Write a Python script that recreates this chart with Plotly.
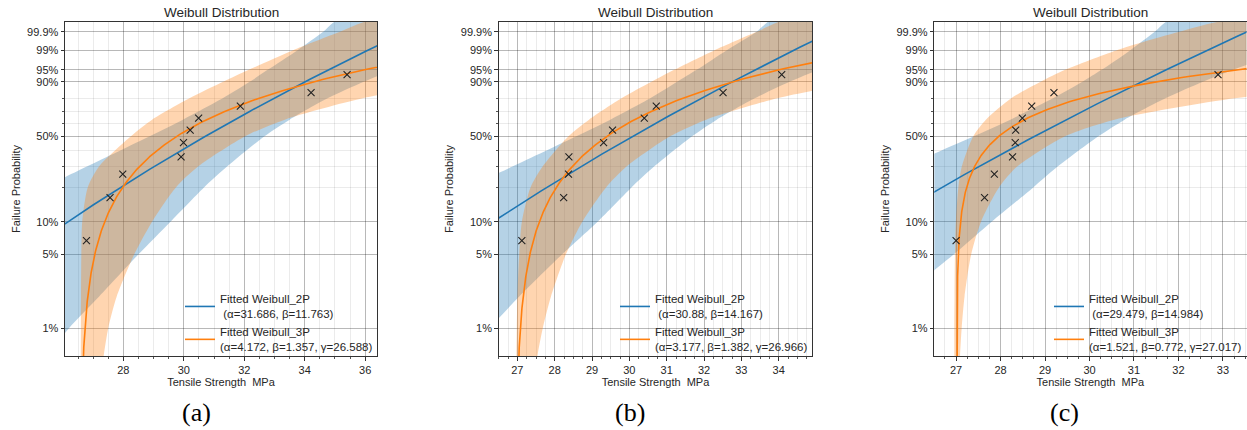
import numpy as np
import plotly.graph_objects as go

# ---------------- data ----------------
rank_pct = [6.7, 16.4, 26.0, 35.6, 45.2, 54.8, 64.4, 74.0, 83.7, 93.3]
strength_a = [26.78, 27.56, 27.98, 29.91, 29.99, 30.21, 30.49, 31.87, 34.21, 35.40]
strength_b = [27.12, 28.24, 28.37, 28.38, 29.31, 29.55, 30.40, 30.72, 32.51, 34.08]
strength_c = [27.00, 27.64, 27.86, 28.27, 28.33, 28.34, 28.49, 28.70, 29.20, 32.89]

# fitted parameters shown in the legends: (alpha, beta) and (alpha, beta, gamma)
w2p_a = (31.686, 11.763)
w3p_a = (4.172, 1.357, 26.588)
w2p_b = (30.88, 14.167)
w3p_b = (3.177, 1.382, 26.966)
w2p_c = (29.479, 14.984)
w3p_c = (1.521, 0.772, 27.017)

# confidence bounds: strength at each probability level (left / right edge of band)
band_pct = [0.1, 0.5, 1, 2, 5, 10, 20, 30, 50, 63.2, 80, 90, 95, 99, 99.9, 99.99]
ci2p_a_lo = [12.97, 15.88, 17.32, 18.89, 21.21, 23.17, 25.37, 26.81, 28.87, 29.97, 31.30, 32.18, 32.77, 33.75, 34.60, 35.15]
ci2p_a_hi = [23.50, 25.40, 26.20, 27.20, 28.50, 29.56, 30.66, 31.44, 32.67, 33.50, 34.77, 35.95, 36.91, 38.68, 40.52, 41.90]
ci3p_a_lo = [26.588, 26.592, 26.596, 26.600, 26.610, 26.640, 26.820, 27.200, 28.250, 28.950, 30.200, 31.300, 32.150, 33.600, 35.150, 36.350]
ci3p_a_hi = [27.00, 27.33, 27.50, 27.78, 28.36, 28.95, 29.73, 30.48, 32.03, 33.34, 35.95, 39.05, 42.28, 50.08, 61.69, 73.60]
ci2p_b_lo = [14.71, 17.40, 18.70, 20.10, 22.13, 23.81, 25.67, 26.88, 28.58, 29.49, 30.57, 31.28, 31.80, 32.60, 33.40, 33.85]
ci2p_b_hi = [23.80, 25.50, 26.25, 27.05, 28.20, 29.15, 30.05, 30.67, 31.68, 32.34, 33.37, 34.29, 35.06, 36.44, 37.87, 38.94]
ci3p_b_lo = [26.968, 26.975, 26.985, 27.000, 27.050, 27.120, 27.350, 27.680, 28.370, 28.920, 29.800, 30.590, 31.200, 32.270, 33.400, 34.280]
ci3p_b_hi = [27.27, 27.52, 27.68, 27.90, 28.30, 28.74, 29.37, 29.93, 31.09, 32.06, 33.99, 36.27, 38.63, 44.30, 52.70, 61.30]
ci2p_c_lo = [14.63, 17.14, 18.35, 19.64, 21.51, 23.06, 24.76, 25.85, 27.40, 28.22, 29.19, 29.84, 30.27, 30.91, 31.46, 31.84]
ci2p_c_hi = [22.80, 24.40, 25.10, 25.80, 26.95, 27.80, 28.73, 29.29, 30.20, 30.79, 31.72, 32.55, 33.23, 34.47, 35.75, 36.71]
ci3p_c_lo = [26.960, 26.960, 26.960, 26.965, 26.975, 26.995, 27.050, 27.130, 27.386, 27.670, 28.250, 28.900, 29.450, 30.600, 32.000, 33.300]
ci3p_c_hi = [27.04, 27.085, 27.125, 27.19, 27.34, 27.56, 27.96, 28.38, 29.45, 30.56, 33.31, 37.43, 42.62, 58.74, 91.30, 134.50]

ytick_pct = [1, 5, 10, 50, 90, 95, 99, 99.9]
ytick_text = ["1%", "5%", "10%", "50%", "90%", "95%", "99%", "99.9%"]
yminor_pct = [20, 30, 40, 60, 70, 80]

x_ranges = [[26.07, 36.39], [26.50, 34.90], [26.51, 33.53]]
x_dticks = [2, 1, 1]
x_minor = [0.5, 0.25, 0.25]
captions = ["(a)", "(b)", "(c)"]

# ---------------- helpers ----------------
def wy(p_pct):
    """Weibull probability-paper scale: ln(-ln(1-F))"""
    p = np.asarray(p_pct, dtype=float) / 100.0
    return np.log(-np.log(1.0 - p))

W, H = 1247, 430
FONT = "Liberation Sans, Arial, sans-serif"
BLUE = "#1f77b4"
ORANGE = "#ff7f0e"
BLUE_F = "rgba(31,119,180,0.33)"
ORANGE_F = "rgba(255,127,14,0.33)"
TXT = "#262626"

# plot-area pixel boxes
px_left = [65, 498.7, 934.3]
px_right = [377, 812.3, 1246.5]
px_top, px_bot = 22, 356

fig = go.Figure()

panels = [
    (strength_a, w2p_a, w3p_a, ci2p_a_lo, ci2p_a_hi, ci3p_a_lo, ci3p_a_hi),
    (strength_b, w2p_b, w3p_b, ci2p_b_lo, ci2p_b_hi, ci3p_b_lo, ci3p_b_hi),
    (strength_c, w2p_c, w3p_c, ci2p_c_lo, ci2p_c_hi, ci3p_c_lo, ci3p_c_hi),
]

yb = wy(band_pct)
yband = np.concatenate([yb, yb[::-1]])
ycurve = np.linspace(-6.5, 2.4, 400)

for i, (xs, p2, p3, l2, h2, l3, h3) in enumerate(panels):
    sfx = "" if i == 0 else str(i + 1)
    xa, ya = "x" + sfx, "y" + sfx
    leg = "legend" + sfx
    a2, b2 = p2
    a3, b3, g3 = p3

    # confidence bands
    fig.add_trace(go.Scatter(x=list(l2) + list(h2)[::-1], y=yband, xaxis=xa, yaxis=ya,
                             mode="lines", fill="toself", fillcolor=BLUE_F,
                             line=dict(width=0, shape="spline", smoothing=0.7),
                             hoverinfo="skip", showlegend=False))
    fig.add_trace(go.Scatter(x=list(l3) + list(h3)[::-1], y=yband, xaxis=xa, yaxis=ya,
                             mode="lines", fill="toself", fillcolor=ORANGE_F,
                             line=dict(width=0, shape="spline", smoothing=0.7),
                             hoverinfo="skip", showlegend=False))
    # fitted CDF lines
    fig.add_trace(go.Scatter(x=a2 * np.exp(ycurve / b2), y=ycurve, xaxis=xa, yaxis=ya,
                             mode="lines", line=dict(color=BLUE, width=1.6),
                             name="Fitted Weibull_2P<br>\u00a0(\u03b1=%s, \u03b2=%s)" % (a2, b2),
                             legend=leg, showlegend=True))
    fig.add_trace(go.Scatter(x=g3 + a3 * np.exp(ycurve / b3), y=ycurve, xaxis=xa, yaxis=ya,
                             mode="lines", line=dict(color=ORANGE, width=1.6),
                             name="Fitted Weibull_3P<br>(\u03b1=%s, \u03b2=%s, \u03b3=%s)" % (a3, b3, g3),
                             legend=leg, showlegend=True))
    # failure points
    fig.add_trace(go.Scatter(x=xs, y=wy(rank_pct), xaxis=xa, yaxis=ya, mode="markers",
                             marker=dict(symbol="x-thin", size=7, line=dict(width=1.1, color="#222")),
                             showlegend=False, name="data"))

    dom_x = [px_left[i] / W, px_right[i] / W]
    dom_y = [(H - px_bot) / H, (H - px_top) / H]
    fig.layout["xaxis" + sfx] = dict(
        domain=dom_x, anchor=ya, range=x_ranges[i], tick0=0, dtick=x_dticks[i],
        showgrid=True, gridcolor="rgba(0,0,0,0.28)", gridwidth=1, zeroline=False,
        showline=True, linecolor="#333", linewidth=1, mirror=True,
        ticks="outside", ticklen=3.5, tickcolor="#333",
        tickfont=dict(family=FONT, size=11, color=TXT),
        minor=dict(dtick=x_minor[i], tick0=0, ticks="outside", ticklen=2, tickcolor="#555",
                   showgrid=True, gridcolor="rgba(0,0,0,0.08)"),
        title=dict(text="Tensile Strength\u00a0 MPa", font=dict(family=FONT, size=11, color=TXT),
                   standoff=3),
    )
    fig.layout["yaxis" + sfx] = dict(
        domain=dom_y, anchor=xa, range=[-5.213, 2.153],
        tickmode="array", tickvals=wy(ytick_pct), ticktext=ytick_text,
        showgrid=True, gridcolor="rgba(0,0,0,0.28)", gridwidth=1, zeroline=False,
        showline=True, linecolor="#333", linewidth=1, mirror=True,
        ticks="outside", ticklen=3.5, tickcolor="#333",
        tickfont=dict(family=FONT, size=11, color=TXT),
        minor=dict(tickvals=wy(yminor_pct), ticks="outside", ticklen=2, tickcolor="#555",
                   showgrid=True, gridcolor="rgba(0,0,0,0.08)"),
        title=dict(text="Failure Probability", font=dict(family=FONT, size=11, color=TXT),
                   standoff=4),
    )
    cx = (px_left[i] + px_right[i]) / 2 / W
    fig.add_annotation(text="Weibull Distribution", xref="paper", yref="paper",
                       x=cx, y=(H - 12.5) / H, xanchor="center", yanchor="middle",
                       showarrow=False, font=dict(family=FONT, size=13.5, color=TXT))

cap_x = [196, 630, 1064]
for i, c in enumerate(captions):
    fig.add_annotation(text=c, xref="paper", yref="paper", x=cap_x[i] / W, y=(H - 412) / H,
                       xanchor="center", yanchor="middle", showarrow=False,
                       font=dict(family="Liberation Serif, Times New Roman, serif", size=26, color="#000"))

leg_x = [180, 615, 1049]
for i in range(3):
    sfx = "" if i == 0 else str(i + 1)
    fig.layout["legend" + sfx] = dict(
        x=leg_x[i] / W, y=(H - 285) / H, xanchor="left", yanchor="top",
        bgcolor="rgba(0,0,0,0)", borderwidth=0, tracegroupgap=0, itemwidth=30,
        font=dict(family=FONT, size=11.5, color=TXT),
    )

fig.update_layout(width=W, height=H, margin=dict(l=0, r=0, t=0, b=0),
                  paper_bgcolor="white", plot_bgcolor="white",
                  font=dict(family=FONT, size=11, color=TXT))

fig.write_html("out.html", config={"displayModeBar": False},
               post_script="document.body.style.margin='0px';document.body.style.overflow='hidden';")
